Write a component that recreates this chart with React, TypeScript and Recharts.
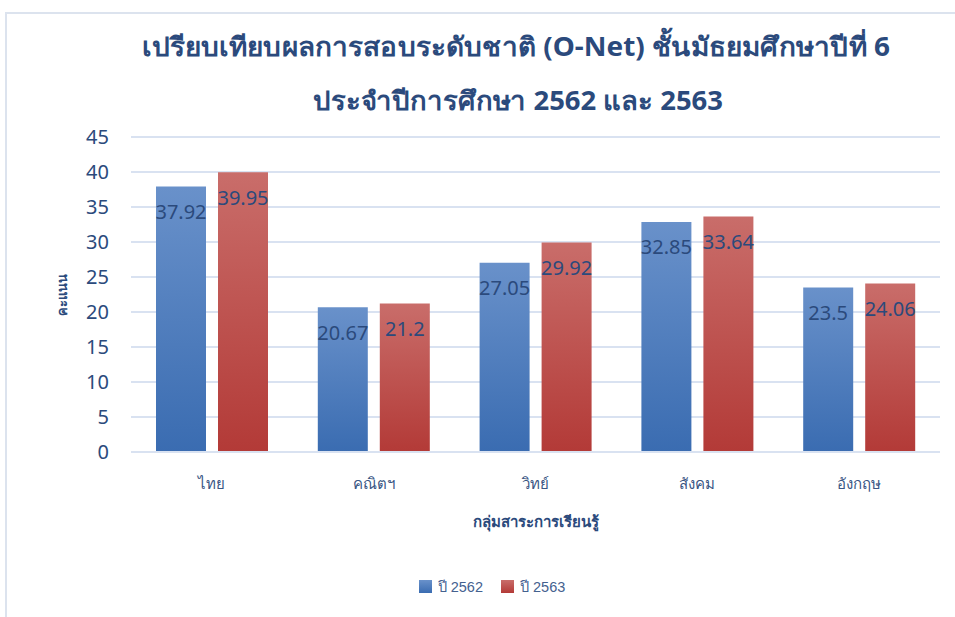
import React from 'react';
import { BarChart, Bar, XAxis, YAxis, CartesianGrid, LabelList } from 'recharts';

const subjects = ['ไทย', 'คณิตฯ', 'วิทย์', 'สังคม', 'อังกฤษ'];
const scores2562 = [37.92, 20.67, 27.05, 32.85, 23.5];
const scores2563 = [39.95, 21.2, 29.92, 33.64, 24.06];
const yTicks = [0, 5, 10, 15, 20, 25, 30, 35, 40, 45];

const titleLine1 = 'เปรียบเทียบผลการสอบระดับชาติ (O-Net) ชั้นมัธยมศึกษาปีที่  6';
const titleLine2 = 'ประจำปีการศึกษา 2562 และ 2563';

const data = subjects.map((s, i) => ({
  subject: s,
  y2562: scores2562[i],
  y2563: scores2563[i],
}));

const font = '"Noto Sans", sans-serif';
const dark = '#2B4A7C';

const App = () => {
  return (
    <div style={{ position: 'absolute', left: 0, top: 0, width: 955, height: 617, background: '#fff', fontFamily: font }}>
      <div style={{ position: 'absolute', left: 5, top: 12, width: 960, height: 620, border: '2px solid #DCE3EE', boxSizing: 'border-box' }} />
      <svg width={955} height={120} style={{ position: 'absolute', left: 0, top: 0 }}>
        <text x={516} y={56} textAnchor="middle" fontSize={26} fontWeight="bold" fill={dark} fontFamily={font}
          textLength={748} lengthAdjust="spacingAndGlyphs">{titleLine1}</text>
        <text x={518} y={110} textAnchor="middle" fontSize={26} fontWeight="bold" fill={dark} fontFamily={font}
          textLength={410} lengthAdjust="spacingAndGlyphs">{titleLine2}</text>
      </svg>
      <BarChart
        width={955}
        height={617}
        data={data}
        margin={{ top: 137, right: 15, bottom: 135, left: 71 }}
        barCategoryGap={25}
        barGap={12}
        style={{ position: 'absolute', left: 0, top: 0 }}
      >
        <defs>
          <linearGradient id="gBlue" x1="0" y1="0" x2="0" y2="1">
            <stop offset="0%" stopColor="#6991CA" />
            <stop offset="100%" stopColor="#3A6CB1" />
          </linearGradient>
          <linearGradient id="gRed" x1="0" y1="0" x2="0" y2="1">
            <stop offset="0%" stopColor="#C96D6A" />
            <stop offset="100%" stopColor="#B33A37" />
          </linearGradient>
        </defs>
        <CartesianGrid vertical={false} stroke="#D9E2F1" strokeWidth={2} />
        <XAxis
          dataKey="subject"
          axisLine={{ stroke: '#D9E2F1', strokeWidth: 2 }}
          tickLine={false}
          tickMargin={20}
          tick={{ fontSize: 15, fill: '#3A5684', fontFamily: font }}
        />
        <YAxis
          width={60}
          domain={[0, 45]}
          ticks={yTicks}
          axisLine={false}
          tickLine={false}
          tickMargin={16}
          tick={{ fontSize: 20, fill: dark, fontFamily: font }}
        />
        <Bar dataKey="y2562" fill="url(#gBlue)" isAnimationActive={false}>
          <LabelList dataKey="y2562" position="insideTop" offset={18} fill={dark} fontSize={20} fontFamily={font} />
        </Bar>
        <Bar dataKey="y2563" fill="url(#gRed)" isAnimationActive={false}>
          <LabelList dataKey="y2563" position="insideTop" offset={18} fill={dark} fontSize={20} fontFamily={font} />
        </Bar>
      </BarChart>
      <div style={{ position: 'absolute', left: 62, top: 295, transform: 'translate(-50%, -50%) rotate(-90deg)', fontSize: 13, fontWeight: 'bold', color: dark, whiteSpace: 'nowrap' }}>
        คะแนน
      </div>
      <div style={{ position: 'absolute', left: 536, top: 522, transform: 'translate(-50%, -50%)', fontSize: 15, fontWeight: 'bold', color: dark, whiteSpace: 'nowrap' }}>
        กลุ่มสาระการเรียนรู้
      </div>
      <div style={{ position: 'absolute', left: 0, width: 984, top: 575, display: 'flex', justifyContent: 'center', fontSize: 14.5, color: '#44618F', fontFamily: '"Liberation Sans", Arial, sans-serif' }}>
        <span style={{ display: 'flex', alignItems: 'center', marginRight: 18 }}>
          <span style={{ width: 13, height: 13, background: 'linear-gradient(#6991CA, #3A6CB1)', marginRight: 6, display: 'inline-block' }} />
          ปี 2562
        </span>
        <span style={{ display: 'flex', alignItems: 'center' }}>
          <span style={{ width: 13, height: 13, background: 'linear-gradient(#C96D6A, #B33A37)', marginRight: 6, display: 'inline-block' }} />
          ปี 2563
        </span>
      </div>
    </div>
  );
};

export default App;
